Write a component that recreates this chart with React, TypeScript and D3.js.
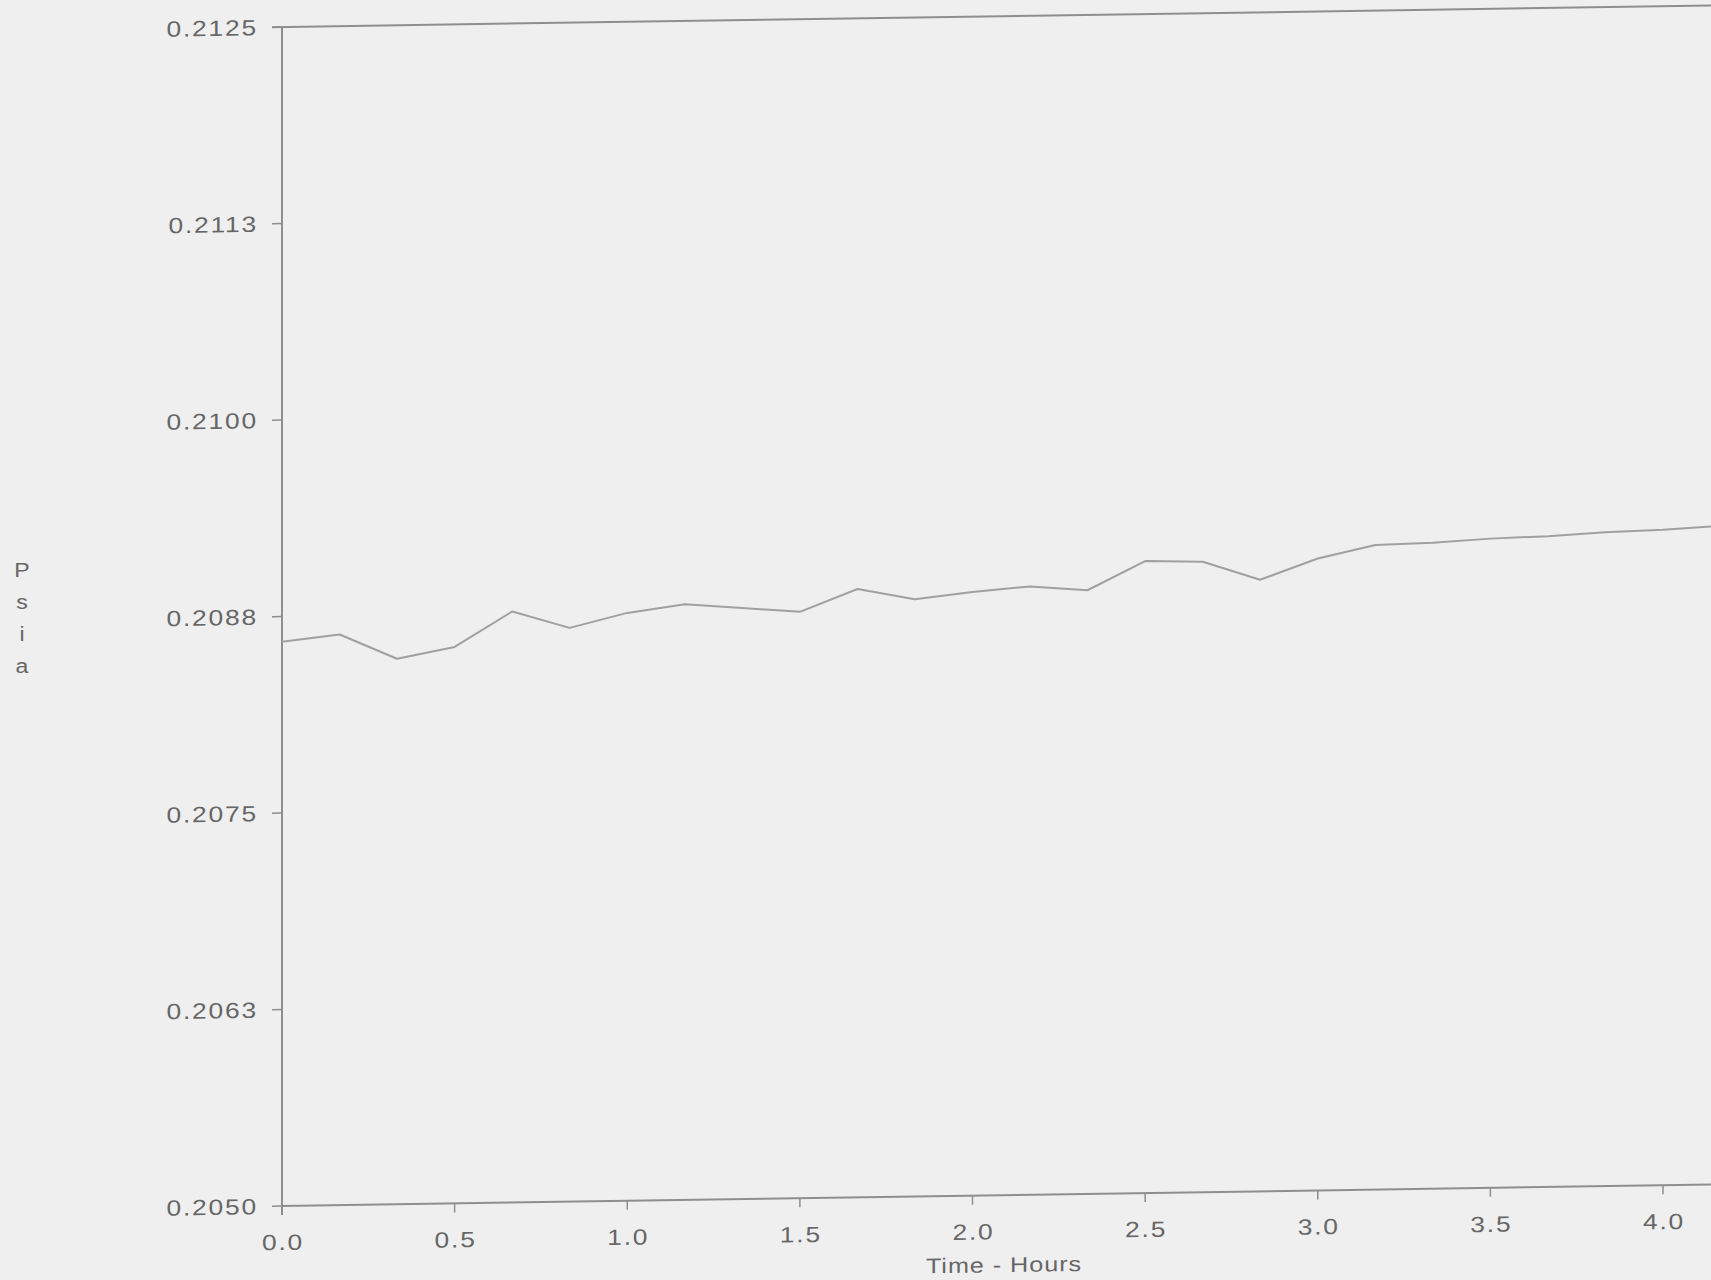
import React from "react";
import * as d3 from "d3";

// Sample times (hours) and measured pressure (psia)
const timeHours = [
  0, 0.167, 0.333, 0.5, 0.667, 0.833, 1.0, 1.167, 1.333, 1.5, 1.667, 1.833, 2.0,
  2.167, 2.333, 2.5, 2.667, 2.833, 3.0, 3.167, 3.333, 3.5, 3.667, 3.833, 4.0, 4.167,
];
const pressurePsia = [
  0.20859, 0.20863, 0.20847, 0.20854, 0.20876, 0.20865, 0.20874, 0.20879, 0.20876,
  0.20873, 0.20887, 0.2088, 0.20884, 0.20887, 0.20884, 0.20902, 0.20901, 0.20889,
  0.20902, 0.2091, 0.20911, 0.20913, 0.20914, 0.20916, 0.20917, 0.20919,
];

const yTickValues = [0.205, 0.20625, 0.2075, 0.20875, 0.21, 0.21125, 0.2125];
const yTickLabels = ["0.2050", "0.2063", "0.2075", "0.2088", "0.2100", "0.2113", "0.2125"];
const xTickValues = [0, 0.5, 1, 1.5, 2, 2.5, 3, 3.5, 4];
const xTickLabels = ["0.0", "0.5", "1.0", "1.5", "2.0", "2.5", "3.0", "3.5", "4.0"];
const yAxisLetters = ["P", "s", "i", "a"];
const xAxisTitle = "Time - Hours";

const W = 1711;
const H = 1280;
const FONT = '"Liberation Sans", Arial, Helvetica, sans-serif';
const TEXT = "#666666";
const AXIS = "#8e8e8e";
const LINE = "#a0a0a0";
const SHEAR_DEG = -0.86;

// Wide, slightly tracked label text
function Label(props: {
  x: number;
  y: number;
  anchor: "start" | "middle" | "end";
  size: number;
  spacing: number;
  stretch?: number;
  children: React.ReactNode;
}) {
  const s = props.stretch ?? 1.2;
  return (
    <text
      transform={`translate(${props.x},${props.y}) scale(${s},1)`}
      textAnchor={props.anchor}
      fontFamily={FONT}
      fontSize={props.size}
      letterSpacing={props.spacing}
      fill={TEXT}
    >
      {props.children}
    </text>
  );
}

export default function App() {
  const x = d3.scaleLinear().domain([0, 4]).range([282, 1663]);
  const y = d3.scaleLinear().domain([0.205, 0.2125]).range([1206, 27]);
  const x0 = x(0);
  const xEnd = x(4.6);

  const pts = timeHours.map((t, i) => [t, pressurePsia[i]] as [number, number]);
  const path = d3
    .line<[number, number]>()
    .x((d) => x(d[0]))
    .y((d) => y(d[1]))(pts) as string;

  const shearOffset = -x0 * Math.tan((SHEAR_DEG * Math.PI) / 180);

  return (
    <svg
      width={W}
      height={H}
      style={{ position: "absolute", left: 0, top: 0, background: "#efefef" }}
    >
      <rect x={0} y={0} width={W} height={H} fill="#efefef" />
      <g transform={`translate(0,${shearOffset}) skewY(${SHEAR_DEG})`}>
        {/* frame: left axis, bottom axis, top border */}
        <line x1={x0} x2={x0} y1={y(0.2125)} y2={y(0.205) + 9} stroke={AXIS} strokeWidth={2} />
        <line x1={x0} x2={xEnd} y1={y(0.205)} y2={y(0.205)} stroke={AXIS} strokeWidth={2} />
        <line x1={x0 - 10} x2={xEnd} y1={y(0.2125)} y2={y(0.2125)} stroke={AXIS} strokeWidth={2} />

        {yTickValues.map((v, i) => (
          <g key={`yt${i}`}>
            <line x1={x0 - 10} x2={x0} y1={y(v)} y2={y(v)} stroke={AXIS} strokeWidth={1.5} />
            <Label x={x0 - 24} y={y(v) + 8} anchor="end" size={22} spacing={1.5}>
              {yTickLabels[i]}
            </Label>
          </g>
        ))}

        {xTickValues.map((v, i) => (
          <g key={`xt${i}`}>
            <line x1={x(v)} x2={x(v)} y1={y(0.205)} y2={y(0.205) + 9} stroke={AXIS} strokeWidth={1.5} />
            <Label x={x(v) + 1} y={y(0.205) + 44} anchor="middle" size={22} spacing={1.5}>
              {xTickLabels[i]}
            </Label>
          </g>
        ))}

        <Label x={1004} y={1283} anchor="middle" size={21} spacing={0.8}>
          {xAxisTitle}
        </Label>

        <path d={path} fill="none" stroke={LINE} strokeWidth={2} strokeLinejoin="round" />
      </g>

      {yAxisLetters.map((c, i) => (
        <Label key={`ya${i}`} x={22} y={577 + i * 32} anchor="middle" size={21} spacing={0} stretch={1.1}>
          {c}
        </Label>
      ))}
    </svg>
  );
}
